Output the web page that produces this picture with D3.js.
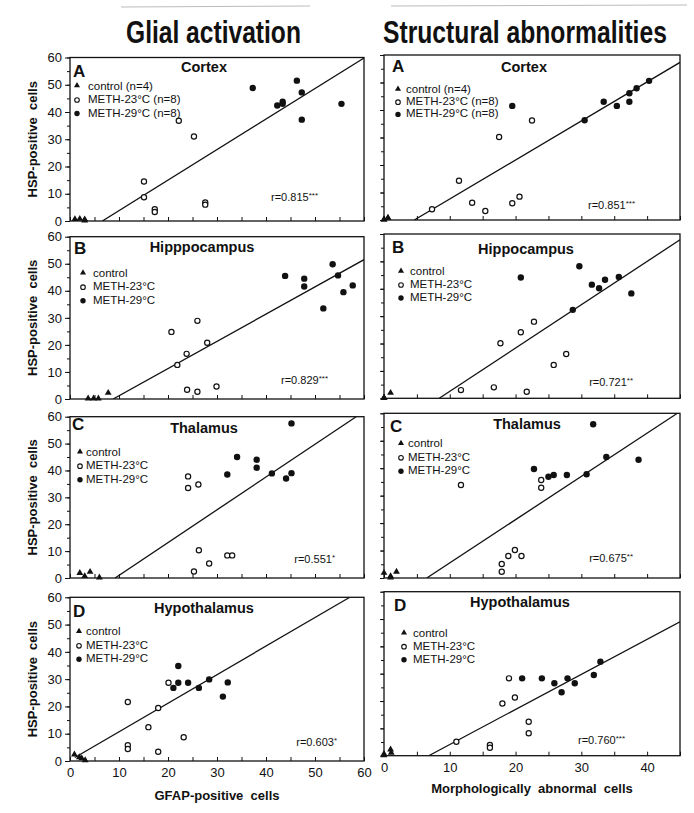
<!DOCTYPE html>
<html><head><meta charset="utf-8">
<script src="https://cdn.jsdelivr.net/npm/d3@7"></script>
<style>
body{margin:0;background:#fff}
svg{display:block}
text{font-family:"Liberation Sans",Arial,Helvetica,sans-serif;fill:#111}
</style>
</head><body>
<script>
// ---------------- DATA ----------------
const columnTitles = ["Glial activation", "Structural abnormalities"];
const xAxisTitles = ["GFAP-positive  cells", "Morphologically  abnormal  cells"];
const yAxisTitle = "HSP-positive  cells";
const panelLetters = ["A", "B", "C", "D"];
const glialRegions = ["Cortex", "Hipppocampus", "Thalamus", "Hypothalamus"];
const structRegions = ["Cortex", "Hippocampus", "Thalamus", "Hypothalamus"];
const legendLabelsFirst = ["control (n=4)", "METH-23°C (n=8)", "METH-29°C (n=8)"];
const legendLabels = ["control", "METH-23°C", "METH-29°C"];
const glialR = [["r=0.815", "***"], ["r=0.829", "***"], ["r=0.551", "*"], ["r=0.603", "*"]];
const structR = [["r=0.851", "***"], ["r=0.721", "**"], ["r=0.675", "**"], ["r=0.760", "***"]];
const yTicks = [0, 10, 20, 30, 40, 50, 60];
const glialXTicks = [0, 10, 20, 30, 40, 50, 60];
const structXTicks = [0, 10, 20, 30, 40];

// Glial activation (GFAP-positive cells, HSP-positive cells)
const gCortexCtrl = [[1,0.5],[2,0.6],[3,0.4],[3,0]];
const gCortex23 = [[15.1,14.5],[15.1,8.7],[17.3,4.3],[17.3,3.3],[22.2,36.8],[25.3,31],[27.6,6.8],[27.6,6]];
const gCortex29 = [[37.3,48.8],[42.3,42.4],[43.4,43.8],[43.4,43],[46.3,51.5],[47.3,47.2],[47.3,37.2],[55.4,43]];
const gCortexFit = [[6.6,0],[60,59.8]];

const gHippoCtrl = [[3.7,0],[4.8,0],[5.8,0],[7.8,2.1]];
const gHippo23 = [[20.7,24.8],[21.9,12.6],[23.8,16.7],[23.9,3.4],[26,28.9],[26,2.7],[28,20.8],[29.9,4.6]];
const gHippo29 = [[43.9,45.5],[47.8,44.5],[47.8,41.6],[51.7,33.5],[53.6,49.8],[54.7,45.7],[55.8,39.5],[57.7,42]];
const gHippoFit = [[8.8,0],[60,51.5]];

const gThalCtrl = [[2,1.7],[3,0.5],[4.1,2.1],[6,0]];
const gThal23 = [[24.1,37.8],[24.1,33.5],[26.2,34.8],[26.3,10.3],[28.4,5.4],[32.1,8.4],[33.1,8.4],[25.3,2.4]];
const gThal29 = [[32.1,38.5],[34.1,45],[38.1,44],[38.1,41],[41.2,38.9],[44.1,37],[45.2,57.5],[45.2,39]];
const gThalFit = [[9.2,0],[58.4,60]];

const gHypoCtrl = [[0.9,2.2],[1.9,1.2],[2.4,0.8],[3.1,0.1]];
const gHypo23 = [[11.8,21.6],[11.8,5.8],[11.8,4.4],[16,12.4],[18,19.4],[18,3.4],[20.1,28.7],[23.2,8.7]];
const gHypo29 = [[21.1,26.8],[22.1,34.8],[22.1,28.7],[24.1,28.7],[26.3,26.8],[28.4,29.9],[31.2,23.6],[32.2,28.8]];
const gHypoFit = [[1,1.3],[57.1,60]];

// Structural abnormalities (morphologically abnormal cells, HSP-positive cells)
const sCortexCtrl = [[0,0],[0,0],[0.6,0.6],[0.6,0.6]];
const sCortex23 = [[7.3,3.9],[11.4,14.3],[13.4,6.3],[15.4,3.3],[17.5,30.2],[19.5,6.1],[20.6,8.5],[22.5,36.2]];
const sCortex29 = [[19.5,41.5],[30.5,36.3],[33.4,43],[35.4,41.5],[37.3,46.1],[37.3,43],[38.4,47.9],[40.3,50.6]];
const sCortexFit = [[4.6,0],[45,57.3]];

const sHippoCtrl = [[0,0],[0,0],[0,0],[1,1.8]];
const sHippo23 = [[11.7,3],[16.7,4],[17.7,20.1],[20.8,24.1],[21.7,2.4],[22.8,28],[25.8,12.2],[27.7,16.2]];
const sHippo29 = [[20.8,44.1],[28.7,32.3],[29.7,48.2],[31.6,41.5],[32.7,40.2],[33.6,43.3],[35.7,44.3],[37.6,38.3]];
const sHippoFit = [[8.4,0],[45,57.9]];

const sThalCtrl = [[0,1.7],[1,0.5],[1,0],[1.9,2.1]];
const sThal23 = [[11.7,33.9],[23.9,35.7],[23.9,32.9],[17.9,5.1],[17.9,2.3],[18.9,8],[19.9,10.2],[20.9,8]];
const sThal29 = [[22.8,39.7],[25,36.9],[25.8,37.5],[27.8,37.5],[30.8,37.8],[31.8,56],[33.8,44.1],[38.7,43.1]];
const sThalFit = [[6.5,0],[44.6,60]];

const sHypoCtrl = [[0,0.5],[0,0],[1,2.1],[1.1,0.9]];
const sHypo23 = [[11,5.1],[16.1,3.9],[16.1,2.9],[18,19.1],[19,28.3],[19.9,21.3],[22,12.4],[22,8.2]];
const sHypo29 = [[21,28.3],[24,28.3],[25.9,26.5],[27,23.2],[27.9,28.3],[29,26.5],[31.9,29.5],[32.9,34.4]];
const sHypoFit = [[6.8,0],[45,49]];

// ---------------- LAYOUT ----------------
const W = 694, H = 813;
const colX = [[70, 364], [384, 680]];
const colXMax = [60, 45];
const rowsY = [
  [[57.5,221],[236.7,399],[416.7,578],[597.3,761]],
  [[55,220],[234,398.3],[413.3,578],[591.7,755.7]]
];
// [symbol dx, text dx, first row dy, row step]
const legendPos = [
  [[7,18,28,13.5],[13,23,36,13.5],[10,16,35,13.5],[9,16,34,13.5]],
  [[14,22,34,12.2],[17,26,37,13],[17,24,30,13.5],[20,29,41,13]]
];
const letterPos = [[[3,19.5],[4,17],[2,13],[3,19.5]],[[8,17],[8,19],[6,18.5],[10,19.5]]];
const titlePos = [[[204,14],[202,15.5],[204,16.5],[204,16]],[[524,16.7],[526,20],[527,16],[520,15]]];
const rPos = [[[318,201],[328,384],[335,563],[337,746]],[[635,209],[633,386],[633,562],[625,744]]];

const glialSets = [
  [gCortexCtrl,gCortex23,gCortex29,gCortexFit],
  [gHippoCtrl,gHippo23,gHippo29,gHippoFit],
  [gThalCtrl,gThal23,gThal29,gThalFit],
  [gHypoCtrl,gHypo23,gHypo29,gHypoFit]
];
const structSets = [
  [sCortexCtrl,sCortex23,sCortex29,sCortexFit],
  [sHippoCtrl,sHippo23,sHippo29,sHippoFit],
  [sThalCtrl,sThal23,sThal29,sThalFit],
  [sHypoCtrl,sHypo23,sHypo29,sHypoFit]
];

const svg = d3.select("body").append("svg").attr("width", W).attr("height", H);
const defs = svg.append("defs");

// column headings (condensed by horizontal scaling)
svg.append("line").attr("x1",121).attr("x2",310).attr("y1",7).attr("y2",6).attr("stroke","#aaa").attr("stroke-width",0.8);
svg.append("line").attr("x1",391).attr("x2",687).attr("y1",6).attr("y2",5).attr("stroke","#aaa").attr("stroke-width",0.8);
const headX = [[126,175],[383,284]];
columnTitles.forEach((t,i)=>{
  const hg = svg.append("g");
  const ht = hg.append("text").attr("x",0).attr("y",0)
    .style("font-size","31px").style("font-weight","bold").text(t);
  const natural = ht.node().getComputedTextLength();
  hg.attr("transform",`translate(${headX[i][0]},43) scale(${headX[i][1]/natural},1)`);
});

const triangle = d3.symbol().type(d3.symbolTriangle).size(20);

function drawMarkers(g, x, y, ctrl, m23, m29){
  g.selectAll(".ctrl").data(ctrl).join("path").attr("class","ctrl")
    .attr("d", triangle).attr("transform", d => `translate(${x(d[0])},${y(d[1])-0.5})`).attr("fill","#111");
  g.selectAll(".m23").data(m23).join("circle").attr("class","m23")
    .attr("cx", d => x(d[0])).attr("cy", d => y(d[1])).attr("r", 2.6)
    .attr("fill","#fff").attr("stroke","#111").attr("stroke-width",1.2);
  g.selectAll(".m29").data(m29).join("circle").attr("class","m29")
    .attr("cx", d => x(d[0])).attr("cy", d => y(d[1])).attr("r", 3.2).attr("fill","#111");
}

[0,1].forEach(col=>{
  const sets = col===0 ? glialSets : structSets;
  const regions = col===0 ? glialRegions : structRegions;
  const rLab = col===0 ? glialR : structR;
  sets.forEach((set, row)=>{
    const [top, bottom] = rowsY[col][row];
    const [x0, x1] = colX[col];
    const x = d3.scaleLinear().domain([0, colXMax[col]]).range([x0, x1]);
    const y = d3.scaleLinear().domain([0, 60]).range([bottom, top]);
    const g = svg.append("g");
    const cid = `clip${col}${row}`;
    defs.append("clipPath").attr("id", cid).append("rect")
      .attr("x", x0).attr("y", top).attr("width", x1-x0).attr("height", bottom-top);

    // y axis
    const yMinor = d3.axisLeft(y).tickValues(d3.range(0,61,5)).tickSize(3).tickFormat("").tickSizeOuter(0);
    g.append("g").attr("transform",`translate(${x0},0)`).call(yMinor).call(a=>a.select(".domain").remove());
    if(col===0){
      const yMajor = d3.axisLeft(y).tickValues(yTicks).tickSize(5).tickPadding(3).tickSizeOuter(0);
      g.append("g").attr("transform",`translate(${x0},0)`).call(yMajor)
        .call(a=>a.select(".domain").remove())
        .call(a=>a.selectAll("text").style("font-size","13px").attr("fill","#111"));
    } else {
      g.append("g").attr("transform",`translate(${x0},0)`)
        .call(d3.axisLeft(y).tickValues(yTicks).tickSize(4).tickFormat("").tickSizeOuter(0))
        .call(a=>a.select(".domain").remove());
    }
    // x axis (inward ticks)
    const xa = d3.axisBottom(x).tickValues(d3.range(0, colXMax[col]+0.1, 5)).tickSize(-4).tickSizeOuter(0).tickFormat("");
    g.append("g").attr("transform",`translate(0,${bottom})`).call(xa).call(a=>a.select(".domain").remove());
    if(row===3){
      const lab = d3.axisBottom(x).tickValues(col===0?glialXTicks:structXTicks).tickSize(0).tickPadding(7);
      g.append("g").attr("transform",`translate(0,${bottom})`).call(lab)
        .call(a=>a.select(".domain").remove())
        .call(a=>a.selectAll("text").style("font-size","13px").attr("fill","#111"));
    }
    g.selectAll(".tick line").attr("stroke","#111").attr("stroke-width",1);

    // frame
    g.append("rect").attr("x",x0).attr("y",top).attr("width",x1-x0).attr("height",bottom-top)
      .attr("fill","none").attr("stroke","#111").attr("stroke-width",1.3);

    // regression line
    const [ctrl, m23, m29, fit] = set;
    g.append("path").datum(fit).attr("clip-path",`url(#${cid})`)
      .attr("d", d3.line().x(d=>x(d[0])).y(d=>y(d[1])))
      .attr("stroke","#111").attr("stroke-width",1.3).attr("fill","none");

    drawMarkers(g, x, y, ctrl, m23, m29);

    // letter & title
    g.append("text").attr("x", x0+letterPos[col][row][0]).attr("y", top+letterPos[col][row][1])
      .style("font-size","17px").style("font-weight","bold").text(panelLetters[row]);
    g.append("text").attr("x", titlePos[col][row][0]).attr("y", top+titlePos[col][row][1])
      .attr("text-anchor","middle").style("font-size","14.5px").style("font-weight","bold").text(regions[row]);

    // legend
    const lp = legendPos[col][row];
    const labels = row===0 ? legendLabelsFirst : legendLabels;
    labels.forEach((t,i)=>{
      const cy = top + lp[2] + i*lp[3];
      const sx = x0 + lp[0];
      if(i===0) g.append("path").attr("d", d3.symbol().type(d3.symbolTriangle).size(16))
        .attr("transform",`translate(${sx},${cy})`).attr("fill","#111");
      else if(i===1) g.append("circle").attr("cx",sx).attr("cy",cy+1).attr("r",2.3)
        .attr("fill","#fff").attr("stroke","#111").attr("stroke-width",1.1);
      else g.append("circle").attr("cx",sx).attr("cy",cy+1).attr("r",2.7).attr("fill","#111");
      g.append("text").attr("x", x0+lp[1]).attr("y", cy+4).style("font-size","11.5px").text(t);
    });

    // r label
    const rt = g.append("text").attr("x", rPos[col][row][0]).attr("y", rPos[col][row][1])
      .attr("text-anchor","end").style("font-size","11px");
    rt.append("tspan").text(rLab[row][0]);
    rt.append("tspan").attr("dy",-3).style("font-size","8px").text(rLab[row][1]);

    // y axis title (left column)
    if(col===0){
      g.append("text").attr("transform",`translate(37,${(top+bottom)/2}) rotate(-90)`)
        .attr("text-anchor","middle").style("font-size","13px").style("font-weight","bold")
        .style("white-space","pre").attr("xml:space","preserve").text(yAxisTitle);
    }
  });
});

// x axis titles
svg.append("text").attr("x",217).attr("y",800).attr("text-anchor","middle")
  .style("font-size","13px").style("font-weight","bold").attr("xml:space","preserve").style("white-space","pre").text(xAxisTitles[0]);
svg.append("text").attr("x",532).attr("y",793).attr("text-anchor","middle")
  .style("font-size","13px").style("font-weight","bold").attr("xml:space","preserve").style("white-space","pre").text(xAxisTitles[1]);
</script>
</body></html>
